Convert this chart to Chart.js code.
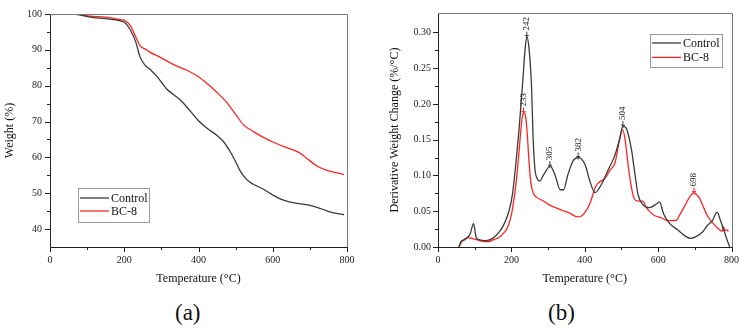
<!DOCTYPE html>
<html><head><meta charset="utf-8">
<script src="https://cdn.jsdelivr.net/npm/chart.js@4/dist/chart.umd.min.js"></script>
<style>
html,body{margin:0;padding:0;background:#fff;width:746px;height:329px;overflow:hidden}
canvas{position:absolute;top:0}
.lab{position:absolute;font-family:"Liberation Serif",serif;font-size:23px;color:#111;top:300px}
</style></head><body>
<canvas id="c1" width="370" height="300" style="left:0"></canvas>
<canvas id="c2" width="376" height="300" style="left:370px"></canvas>
<div class="lab" style="left:175px">(a)</div>
<div class="lab" style="left:548px">(b)</div>
<script>
// ---------- DATA ----------
const seriesNames = ['Control', 'BC-8'];
// TGA (a)
const tgaControlT = [50,75,108,150,189,203,216,230,243,257,270,290,315,333,355,378,400,423,450,468,486,500,513,530,548,575,600,620,647,701,732,764,792];
const tgaControlW = [100,99.8,99.1,98.7,98.1,97.5,95.6,92.5,87.9,85.6,84.5,82.3,79,77.5,75.6,72.9,70.2,68.1,66.1,64.3,61.5,58.8,56.1,53.8,52.5,51.1,49.5,48.4,47.5,46.6,45.6,44.5,44.0];
const tgaBC8T = [50,75,108,150,189,203,216,230,243,257,270,297,333,369,400,423,450,477,500,522,548,575,600,638,670,692,719,746,773,792];
const tgaBC8W = [100,99.9,99.4,99.1,98.4,98.1,96.8,93.8,91.1,90.2,89.3,87.9,85.9,84.3,82.5,80.6,78.1,75.2,72,69,67.2,65.6,64.3,62.7,61.4,59.7,57.6,56.4,55.7,55.2];
// DTG (b)
const dtgControlT = [57,63,72,81,88,97,104,113,131,149,167,180,194,203,212,221,230,237,242,248,255,259,264,270,277,288,306,320,333,342,354,369,383,401,414,428,446,464,482,495,504,514,527,536,545,559,577,595,604,615,631,653,676,689,703,721,734,748,761,770,779,788,795];
const dtgControlD = [0,0.0077,0.01,0.0136,0.019,0.0327,0.0136,0.01,0.009,0.012,0.021,0.032,0.051,0.074,0.115,0.165,0.224,0.274,0.294,0.278,0.224,0.155,0.11,0.096,0.092,0.101,0.113,0.099,0.080,0.080,0.101,0.121,0.125,0.115,0.092,0.076,0.088,0.108,0.128,0.151,0.169,0.165,0.137,0.105,0.074,0.059,0.055,0.06,0.063,0.046,0.033,0.024,0.0145,0.012,0.0145,0.021,0.030,0.037,0.0486,0.037,0.0236,0.01,0];
const dtgBC8T = [57,63,72,80,90,100,113,125,140,150,165,180,190,200,208,215,222,228,233,238,243,248,253,260,270,285,300,320,340,360,380,390,400,415,430,437,455,470,482,495,503,510,518,525,533,545,558,568,580,590,608,626,649,660,671,685,698,705,712,720,735,750,765,775,778,782,786,792];
const dtgBC8D = [0,0.006,0.011,0.013,0.0125,0.011,0.009,0.0075,0.0075,0.01,0.013,0.02,0.028,0.045,0.07,0.1,0.14,0.175,0.188,0.185,0.16,0.12,0.09,0.075,0.069,0.065,0.06,0.055,0.051,0.047,0.042,0.043,0.048,0.062,0.085,0.0895,0.096,0.108,0.117,0.15,0.164,0.15,0.115,0.09,0.07,0.064,0.064,0.055,0.048,0.044,0.041,0.0368,0.037,0.046,0.056,0.069,0.076,0.073,0.069,0.06,0.043,0.033,0.025,0.022,0.028,0.023,0.024,0.022];
// peak annotations
const peakControlT = [242,305,382,504];
const peakControlD = [0.294,0.113,0.125,0.169];
const peakBC8T = [233,698];
const peakBC8D = [0.188,0.076];
// ticks
const xMajor = [0,200,400,600,800];
const xMinor = [100,300,500,700];
const tgaYMajor = [40,50,60,70,80,90,100];
const tgaYMinor = [45,55,65,75,85,95];
const dtgYMajor = [0,0.05,0.10,0.15,0.20,0.25,0.30];
const dtgYMinor = [0.025,0.075,0.125,0.175,0.225,0.275];

// ---------- STYLE ----------
const colors = ['#3a3a3a', '#ff2424'];
const FONT = '"Liberation Serif", "Times New Roman", serif';
const toPts = (xs, ys) => xs.map((x, i) => ({x, y: ys[i]}));

const framePlugin = {
  id: 'frame',
  afterDraw(chart, args, o) {
    const {ctx, chartArea: a, scales: {x, y}} = chart;
    ctx.save();
    ctx.lineWidth = 1;
    ctx.strokeStyle = '#777';
    ctx.beginPath();
    ctx.moveTo(a.left, Math.round(a.top) + 0.5);
    ctx.lineTo(Math.round(a.right) + 0.5, Math.round(a.top) + 0.5);
    ctx.lineTo(Math.round(a.right) + 0.5, a.bottom);
    ctx.stroke();
    ctx.strokeStyle = '#222';
    ctx.beginPath();
    const tx = (vals, len) => vals.forEach(v => { const p = Math.round(x.getPixelForValue(v)) + 0.5; ctx.moveTo(p, a.bottom); ctx.lineTo(p, a.bottom + len); });
    const ty = (vals, len) => vals.forEach(v => { const p = Math.round(y.getPixelForValue(v)) + 0.5; ctx.moveTo(a.left, p); ctx.lineTo(a.left - len, p); });
    tx(o.xMajor, 5); tx(o.xMinor, 3); ty(o.yMajor, 5); ty(o.yMinor, 3);
    ctx.stroke();
    // peak labels
    (o.peaks || []).forEach(pk => {
      ctx.strokeStyle = pk.color; ctx.fillStyle = '#222';
      pk.t.forEach((t, i) => {
        const px = x.getPixelForValue(t), py = y.getPixelForValue(pk.d[i]);
        ctx.beginPath();
        ctx.moveTo(px, py + 2); ctx.lineTo(px, py - 5);
        ctx.moveTo(px - 2, py - 1); ctx.lineTo(px + 2, py - 1);
        ctx.stroke();
        ctx.save();
        ctx.translate(px, py - 6);
        ctx.rotate(-Math.PI / 2);
        ctx.font = '9px ' + FONT;
        ctx.textAlign = 'left'; ctx.textBaseline = 'middle';
        ctx.fillText(String(t), 0, 0);
        ctx.restore();
      });
    });
    // legend
    const L = o.legend;
    ctx.strokeStyle = '#9a9a9a';
    ctx.strokeRect(L.x + 0.5, L.y + 0.5, L.w, L.h);
    ctx.font = '12px ' + FONT; ctx.textBaseline = 'middle'; ctx.textAlign = 'left';
    chart.data.datasets.forEach((ds, i) => {
      const ly = L.y + L.row0 + i * L.rowH;
      ctx.strokeStyle = ds.borderColor; ctx.lineWidth = 1.3;
      ctx.beginPath(); ctx.moveTo(L.x + 2, ly); ctx.lineTo(L.x + 31, ly); ctx.stroke();
      ctx.fillStyle = '#111';
      ctx.fillText(ds.label, L.x + 33, ly + 0.5);
    });
    ctx.restore();
  }
};

function makeChart(id, datasets, yMin, yMax, yMajor, yFmt, yTitle, yWidth, yTitlePad, yLabelPad, pad, frameOpts) {
  return new Chart(document.getElementById(id), {
    type: 'line',
    data: {datasets},
    plugins: [framePlugin],
    options: {
      responsive: false, animation: false, devicePixelRatio: 1,
      layout: {padding: pad},
      plugins: {legend: {display: false}, tooltip: {enabled: false}, frame: frameOpts},
      elements: {point: {radius: 0}, line: {borderWidth: 1.3, cubicInterpolationMode: 'monotone'}},
      scales: {
        x: {
          type: 'linear', min: 0, max: 800,
          afterBuildTicks: s => { s.ticks = xMajor.map(v => ({value: v})); },
          afterFit: s => { s.height = 53; },
          grid: {display: true, drawOnChartArea: false, drawTicks: false},
          border: {color: '#222', width: 1},
          ticks: {padding: 7, color: '#222', font: {family: FONT, size: 10}, maxRotation: 0},
          title: {display: true, text: 'Temperature (°C)', color: '#111', font: {family: FONT, size: 12}, padding: {top: 0, bottom: 14}}
        },
        y: {
          type: 'linear', min: yMin, max: yMax,
          afterBuildTicks: s => { s.ticks = yMajor.map(v => ({value: v})); },
          afterFit: s => { s.width = yWidth; },
          grid: {display: true, drawOnChartArea: false, drawTicks: false},
          border: {color: '#222', width: 1},
          ticks: {padding: yLabelPad, color: '#222', font: {family: FONT, size: 10}, callback: yFmt},
          title: {display: true, text: yTitle, color: '#111', font: {family: FONT, size: 12}, padding: {top: yTitlePad, bottom: 0}}
        }
      }
    }
  });
}

makeChart('c1', [
  {label: seriesNames[0], data: toPts(tgaControlT, tgaControlW), borderColor: colors[0]},
  {label: seriesNames[1], data: toPts(tgaBC8T, tgaBC8W), borderColor: colors[1]}
], 35, 100, tgaYMajor, v => String(v), 'Weight (%)', 50, 3, 8, {top: 9, right: 23, left: 0, bottom: 0},
{xMajor, xMinor, yMajor: tgaYMajor, yMinor: tgaYMinor,
 legend: {x: 78, y: 188, w: 71, h: 34, row0: 10, rowH: 13}});

makeChart('c2', [
  {label: seriesNames[0], data: toPts(dtgControlT, dtgControlD), borderColor: colors[0]},
  {label: seriesNames[1], data: toPts(dtgBC8T, dtgBC8D), borderColor: colors[1]}
], 0, 0.327, dtgYMajor, v => Number(v).toFixed(2), 'Derivative Weight Change (%/°C)', 68, 18, 7, {top: 7, right: 12, left: 0, bottom: 0},
{xMajor, xMinor, yMajor: dtgYMajor, yMinor: dtgYMinor,
 peaks: [{t: peakControlT, d: peakControlD, color: colors[0]}, {t: peakBC8T, d: peakBC8D, color: colors[1]}],
 legend: {x: 280, y: 34, w: 72, h: 33, row0: 9, rowH: 14.4}});
</script>
</body></html>
